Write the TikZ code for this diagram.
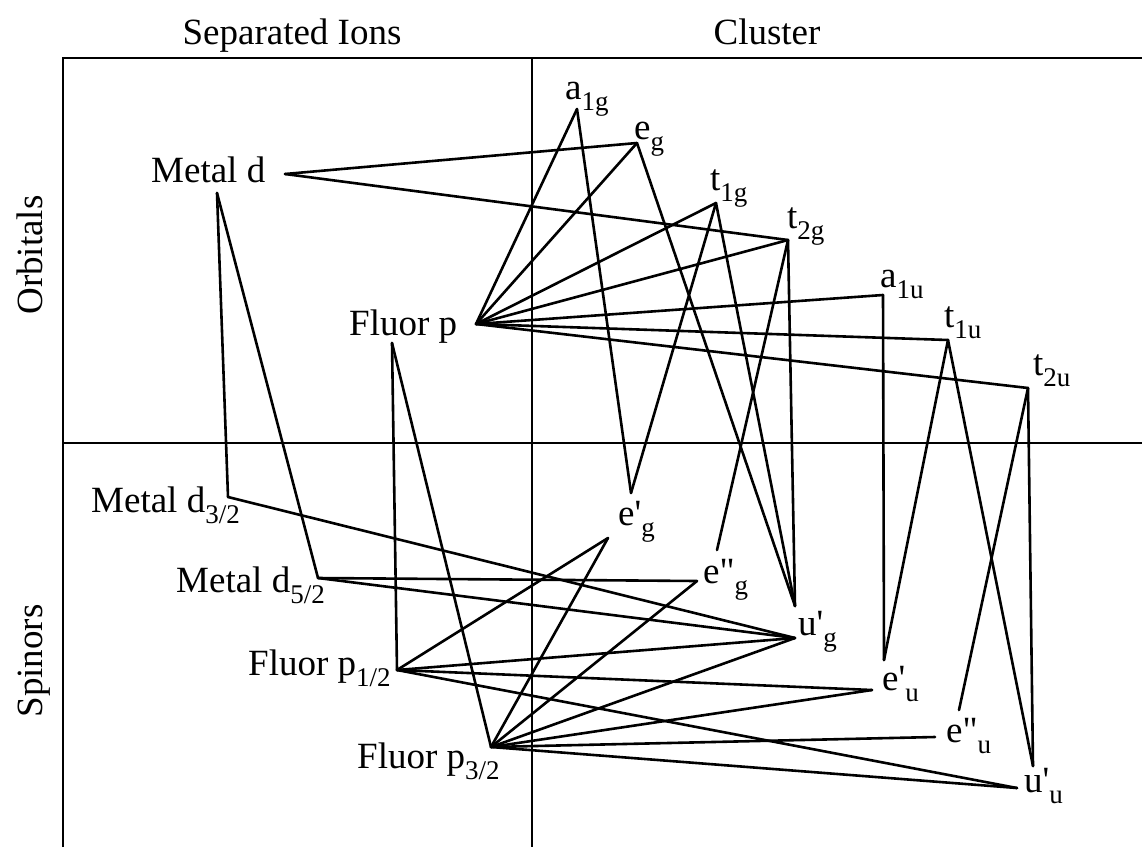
\documentclass[tikz,border=0pt]{standalone}
\usepackage{fontspec}
\setmainfont{Liberation Serif}[Ligatures=TeXOff]
\newcommand\lsub[1]{\raisebox{-11pt}{\fontsize{27}{27}\selectfont #1}}
\begin{document}
\begin{tikzpicture}[x=1pt,y=-1pt,
  lbl/.style={anchor=base west, inner sep=0pt, font=\fontsize{37}{44}\selectfont},
  link/.style={line width=2.6pt, line cap=round, line join=round},
  framel/.style={line width=2.6pt}]
\useasboundingbox (0,0) rectangle (1142,847);
\clip (0,0) rectangle (1142,847);
% frame
\coordinate (fTL) at (63,58);
\coordinate (fBL) at (63,847);
\coordinate (fTR) at (1142,58);
\coordinate (fML) at (63,443);
\coordinate (fMR) at (1142,443);
\coordinate (fTM) at (532,58);
\coordinate (fBM) at (532,847);
\draw[framel] (fBL) -- (fTL) -- (fTR);
\draw[framel] (fML) -- (fMR);
\draw[framel] (fTM) -- (fBM);
% headings
\node[lbl, anchor=base] (hsep) at (292,44) {Separated Ions};
\node[lbl, anchor=base] (hcl) at (767,44) {Cluster};
\node[lbl, anchor=base, rotate=90] (horb) at (42,255) {Orbitals};
\node[lbl, anchor=base, rotate=90] (hspin) at (42,661) {Spinors};
% labels
\node[lbl] (Md) at (151,182) {Metal d};
\node[lbl] (Fp) at (349,335) {Fluor p};
\node[lbl] (a1g) at (565,99) {a\lsub{1g}};
\node[lbl] (eg) at (634,139) {e\lsub{g}};
\node[lbl] (t1g) at (710,190) {t\lsub{1g}};
\node[lbl] (t2g) at (787,228) {t\lsub{2g}};
\node[lbl] (a1u) at (880,287) {a\lsub{1u}};
\node[lbl] (t1u) at (944,327) {t\lsub{1u}};
\node[lbl] (t2u) at (1033,375) {t\lsub{2u}};
\node[lbl] (Md32) at (91,512) {Metal d\lsub{3/2}};
\node[lbl] (Md52) at (176,592) {Metal d\lsub{5/2}};
\node[lbl] (Fp12) at (248,675) {Fluor p\lsub{1/2}};
\node[lbl] (Fp32) at (357,768) {Fluor p\lsub{3/2}};
\node[lbl] (epg) at (618,525) {e'\lsub{g}};
\node[lbl] (eppg) at (703,583) {e"\lsub{g}};
\node[lbl] (upg) at (798,635) {u'\lsub{g}};
\node[lbl] (epu) at (882,690) {e'\lsub{u}};
\node[lbl] (eppu) at (946,742) {e"\lsub{u}};
\node[lbl] (upu) at (1024,792) {u'\lsub{u}};
% connection points
\coordinate (MdR) at (285,174);
\coordinate (MdB) at (217,193);
\coordinate (FpR) at (476,324);
\coordinate (FpB) at (392,343);
\coordinate (a1gP) at (577,109);
\coordinate (egP) at (637,143);
\coordinate (t1gP) at (716,203);
\coordinate (t2gP) at (788,240);
\coordinate (a1uP) at (883,295);
\coordinate (t1uP) at (948,340);
\coordinate (t2uP) at (1028,388);
\coordinate (Md32P) at (228,497);
\coordinate (Md52P) at (318,578);
\coordinate (Fp12P) at (397,670);
\coordinate (Fp32P) at (491,747);
\coordinate (epgP) at (608,538);
\coordinate (epgT) at (631,493);
\coordinate (eppgP) at (697,581);
\coordinate (eppgT) at (717,550);
\coordinate (upgP) at (795,638);
\coordinate (upgT) at (795,606);
\coordinate (epuP) at (872,690);
\coordinate (epuT) at (884,660);
\coordinate (eppuP) at (935,737);
\coordinate (eppuT) at (959,710);
\coordinate (upuP) at (1017,788);
\coordinate (upuT) at (1033,766);
% orbital links
\draw[link] (MdR) -- (egP);
\draw[link] (MdR) -- (t2gP);
\foreach \t in {a1gP,egP,t1gP,t2gP,a1uP,t1uP,t2uP} \draw[link] (FpR) -- (\t);
% orbitals to spinors
\draw[link] (MdB) -- (Md32P);
\draw[link] (MdB) -- (Md52P);
\draw[link] (FpB) -- (Fp12P);
\draw[link] (FpB) -- (Fp32P);
\draw[link] (a1gP) -- (epgT);
\draw[link] (egP) -- (upgT);
\draw[link] (t1gP) -- (epgT);
\draw[link] (t1gP) -- (upgT);
\draw[link] (t2gP) -- (eppgT);
\draw[link] (t2gP) -- (upgT);
\draw[link] (a1uP) -- (epuT);
\draw[link] (t1uP) -- (epuT);
\draw[link] (t1uP) -- (upuT);
\draw[link] (t2uP) -- (eppuT);
\draw[link] (t2uP) -- (upuT);
% spinor links
\draw[link] (Md32P) -- (upgP);
\draw[link] (Md52P) -- (eppgP);
\draw[link] (Md52P) -- (upgP);
\foreach \t in {epgP,upgP,epuP,upuP} \draw[link] (Fp12P) -- (\t);
\foreach \t in {epgP,eppgP,upgP,epuP,eppuP,upuP} \draw[link] (Fp32P) -- (\t);
\end{tikzpicture}
\end{document}
